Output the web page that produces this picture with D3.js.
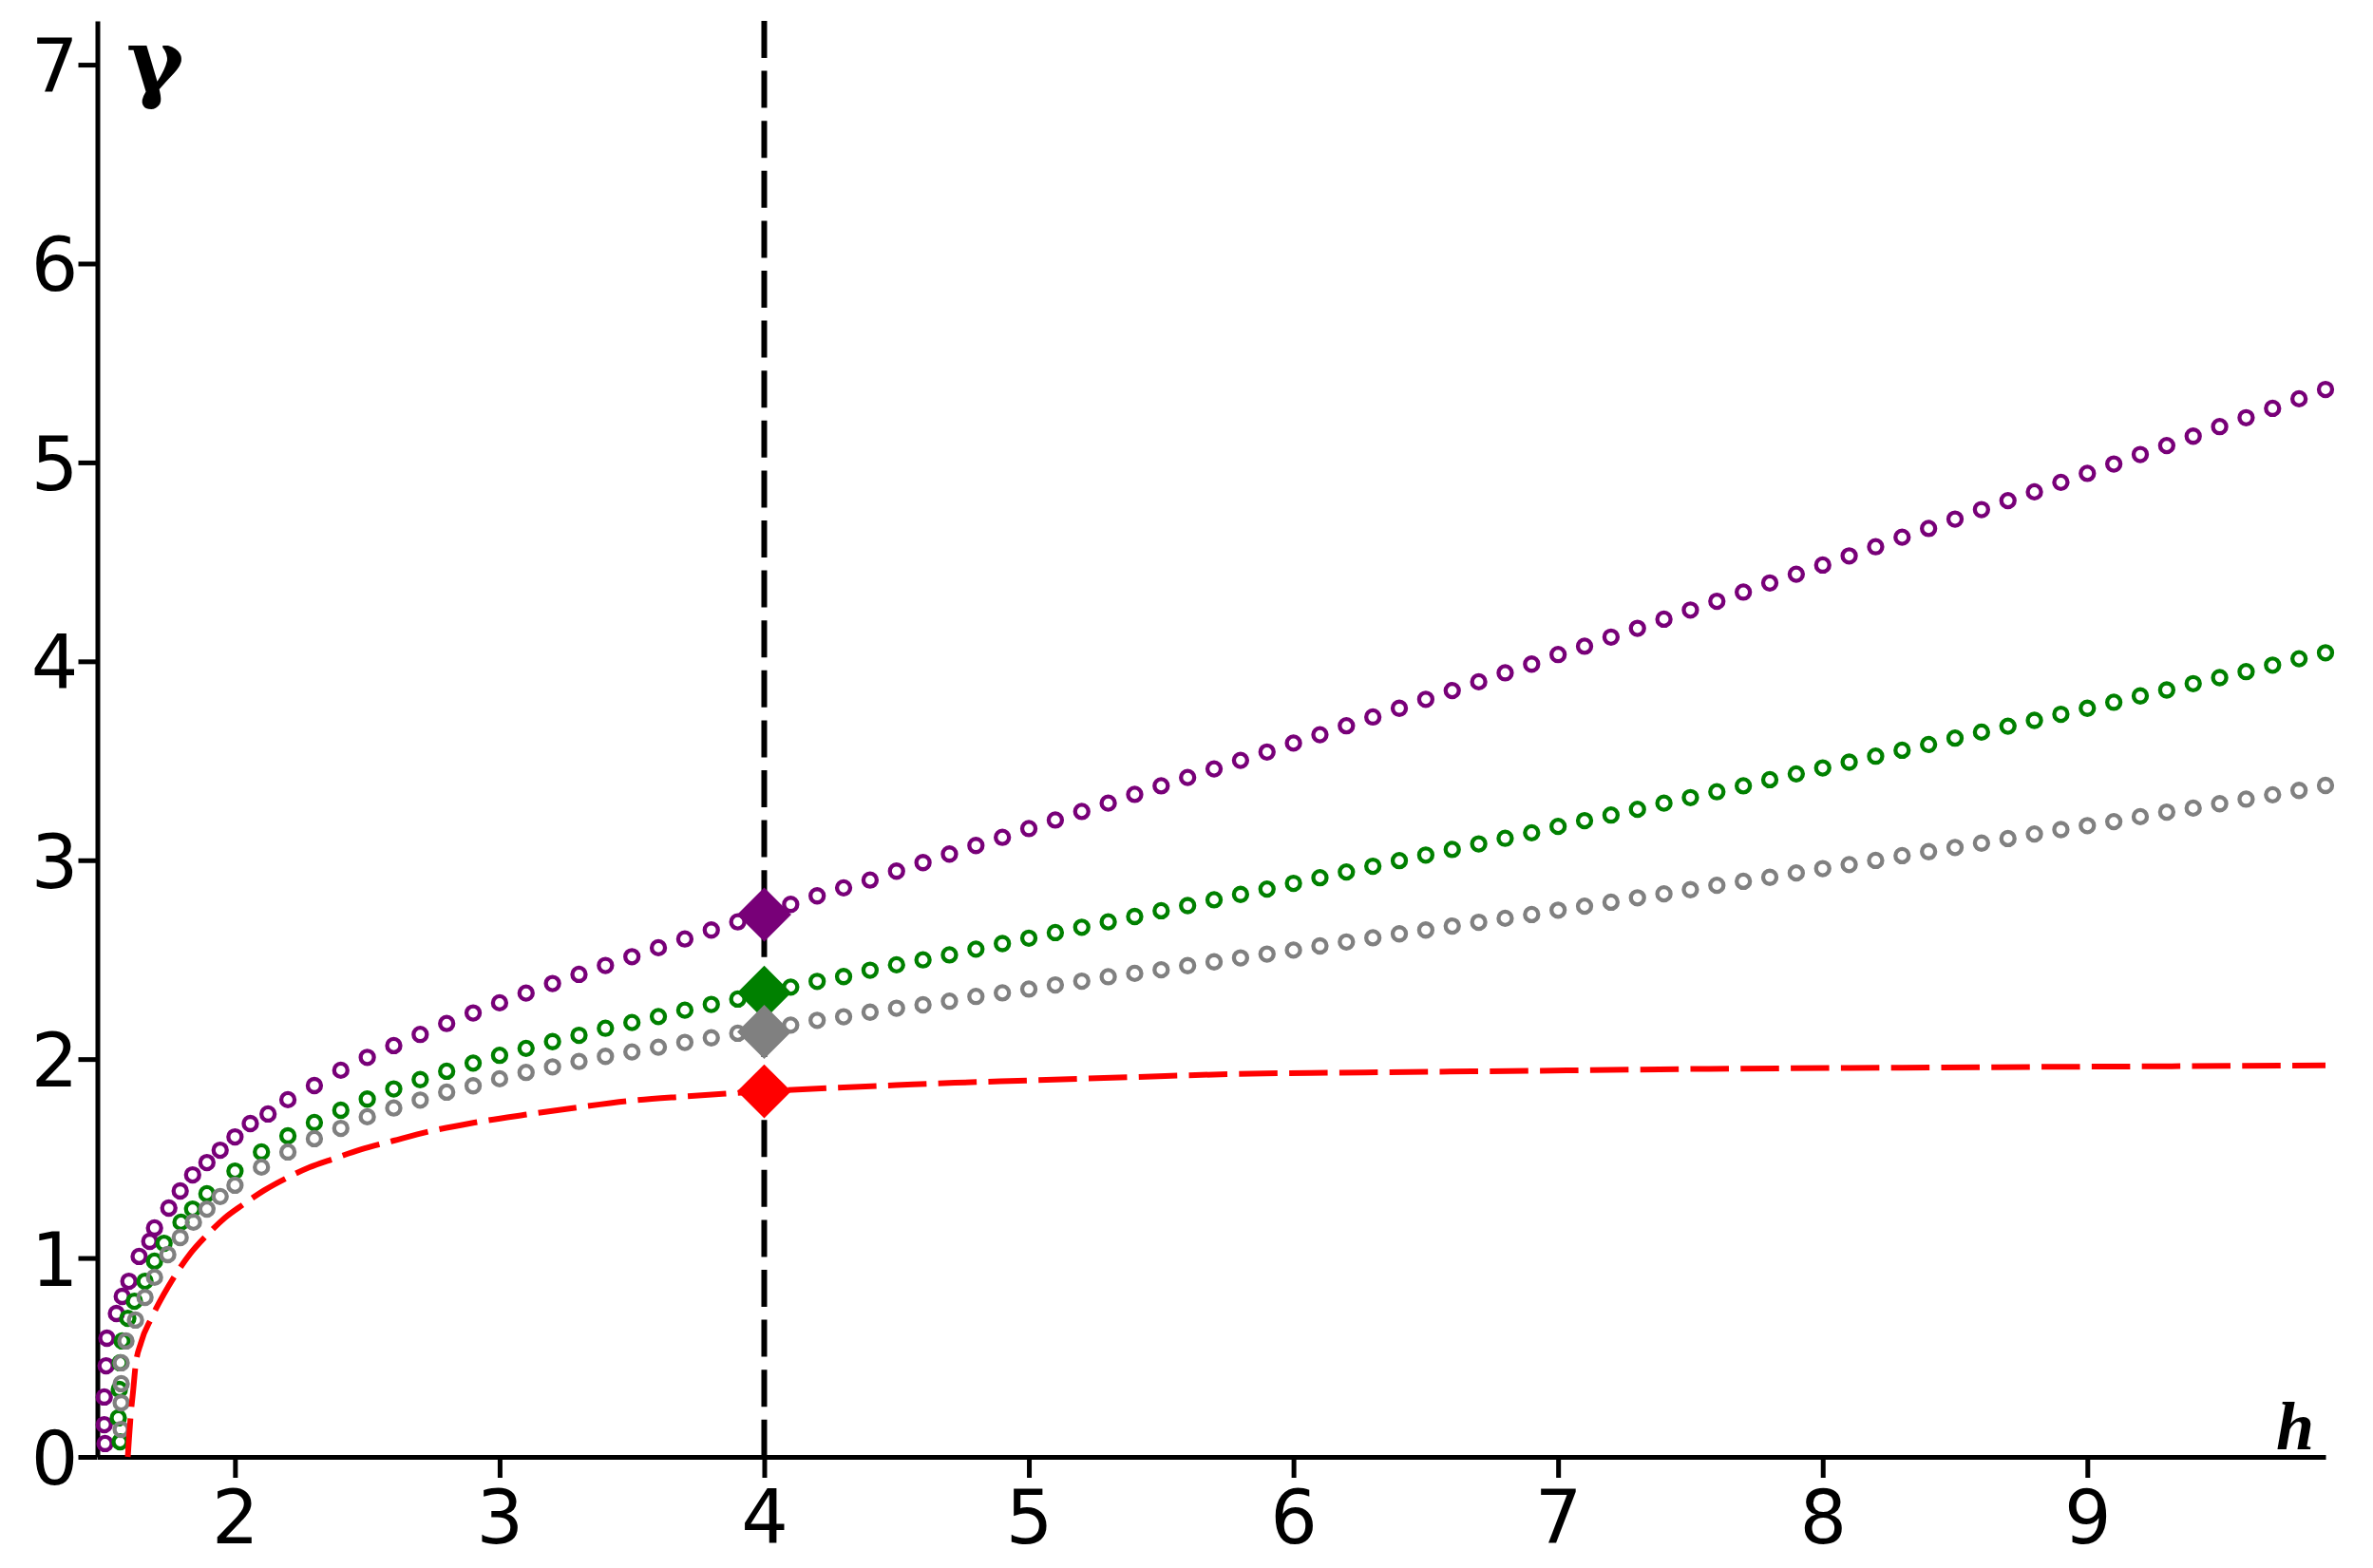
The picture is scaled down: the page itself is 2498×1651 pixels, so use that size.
<!DOCTYPE html>
<html lang="en">
	<head>
		<meta charset="utf-8">
		<title>gamma against h</title>
		<script src="https://d3js.org/d3.v7.min.js"></script>
		<style>
			body { margin: 0; background: #fff; }
			.tick text { font-family: "DejaVu Sans", sans-serif; font-size: 78px; fill: #000; }
		</style>
	</head>
	<body>
		<div id="chart"></div>

		<script type="text/javascript">

			// h values shared by the three dotted series (right part of the curves)
			var hGrid = [2.5, 2.6, 2.7, 2.8, 2.9, 3.0, 3.1, 3.2, 3.3, 3.4, 3.5, 3.6, 3.7, 3.8, 3.9,
				4.1, 4.2, 4.3, 4.4, 4.5, 4.6, 4.7, 4.8, 4.9, 5.0, 5.1, 5.2, 5.3, 5.4, 5.5, 5.6, 5.7, 5.8, 5.9,
				6.0, 6.1, 6.2, 6.3, 6.4, 6.5, 6.6, 6.7, 6.8, 6.9, 7.0, 7.1, 7.2, 7.3, 7.4, 7.5, 7.6, 7.7, 7.8, 7.9,
				8.0, 8.1, 8.2, 8.3, 8.4, 8.5, 8.6, 8.7, 8.8, 8.9, 9.0, 9.1, 9.2, 9.3, 9.4, 9.5, 9.6, 9.7, 9.8, 9.9];

			// purple series
			var purpleHeadH = [1.509, 1.506, 1.506, 1.513, 1.516, 1.552, 1.574, 1.599, 1.638, 1.678, 1.696, 1.750,
				1.793, 1.840, 1.894, 1.944, 2.0, 2.058, 2.125, 2.2, 2.3, 2.4];
			var purpleHeadG = [0.067, 0.162, 0.301, 0.458, 0.597, 0.721, 0.807, 0.883, 1.008, 1.084, 1.151, 1.251,
				1.337, 1.418, 1.480, 1.542, 1.609, 1.676, 1.724, 1.796, 1.867, 1.944];
			var purpleGamma = [2.009, 2.068, 2.124, 2.179, 2.232, 2.283, 2.332, 2.380, 2.426, 2.471, 2.515, 2.560, 2.604, 2.649, 2.690,
				2.778, 2.821, 2.861, 2.900, 2.945, 2.988, 3.031, 3.074, 3.115, 3.159, 3.202, 3.245, 3.287, 3.331, 3.374, 3.416, 3.459, 3.502, 3.544,
				3.589, 3.631, 3.676, 3.720, 3.764, 3.809, 3.853, 3.897, 3.942, 3.986, 4.034, 4.076, 4.122, 4.166, 4.212, 4.258, 4.302, 4.348, 4.394, 4.438,
				4.484, 4.530, 4.576, 4.624, 4.668, 4.715, 4.763, 4.808, 4.852, 4.900, 4.945, 4.992, 5.040, 5.085, 5.132, 5.180, 5.225, 5.272, 5.320, 5.367];

			// green series
			var greenHeadH = [1.566, 1.559, 1.563, 1.566, 1.574, 1.595, 1.620, 1.660, 1.696, 1.732, 1.796, 1.840,
				1.894, 2.0, 2.1, 2.2, 2.3, 2.4];
			var greenHeadG = [0.076, 0.196, 0.339, 0.473, 0.583, 0.697, 0.783, 0.883, 0.984, 1.074, 1.180, 1.246,
				1.323, 1.437, 1.533, 1.614, 1.681, 1.743];
			var greenGamma = [1.799, 1.850, 1.897, 1.939, 1.980, 2.019, 2.054, 2.088, 2.120, 2.155, 2.184, 2.214, 2.246, 2.275, 2.302,
				2.362, 2.391, 2.415, 2.447, 2.474, 2.499, 2.524, 2.553, 2.581, 2.608, 2.636, 2.663, 2.690, 2.717, 2.746, 2.772, 2.801, 2.828, 2.855,
				2.884, 2.912, 2.941, 2.970, 2.998, 3.026, 3.054, 3.082, 3.110, 3.138, 3.170, 3.199, 3.227, 3.256, 3.287, 3.315, 3.344, 3.374, 3.405, 3.434,
				3.464, 3.493, 3.523, 3.553, 3.582, 3.614, 3.644, 3.674, 3.703, 3.734, 3.764, 3.794, 3.826, 3.856, 3.888, 3.918, 3.948, 3.981, 4.013, 4.043];

			// gray series
			var grayHeadH = [1.570, 1.570, 1.570, 1.570, 1.588, 1.624, 1.660, 1.696, 1.746, 1.793, 1.843, 1.894,
				1.944, 2.0, 2.1, 2.2, 2.3, 2.4];
			var grayHeadG = [0.138, 0.272, 0.368, 0.473, 0.583, 0.688, 0.802, 0.903, 1.017, 1.103, 1.180, 1.246,
				1.309, 1.366, 1.457, 1.533, 1.600, 1.652];
			var grayGamma = [1.710, 1.754, 1.794, 1.834, 1.866, 1.901, 1.933, 1.961, 1.988, 2.014, 2.036, 2.060, 2.084, 2.107, 2.130,
				2.171, 2.195, 2.213, 2.236, 2.256, 2.273, 2.291, 2.315, 2.333, 2.352, 2.373, 2.392, 2.414, 2.431, 2.449, 2.470, 2.489, 2.509, 2.528,
				2.548, 2.569, 2.589, 2.610, 2.630, 2.649, 2.669, 2.688, 2.708, 2.727, 2.749, 2.769, 2.789, 2.811, 2.831, 2.852, 2.874, 2.894, 2.914, 2.936,
				2.958, 2.978, 2.999, 3.023, 3.043, 3.064, 3.086, 3.109, 3.132, 3.154, 3.174, 3.194, 3.219, 3.242, 3.262, 3.284, 3.307, 3.329, 3.351, 3.376];

			// red dashed curve
			var redH = [1.595, 1.600, 1.606, 1.615, 1.624, 1.645, 1.685, 1.730, 1.775, 1.830, 1.894, 1.960, 2.034, 2.110,
				2.195, 2.280, 2.375, 2.475, 2.600, 2.730, 2.900, 3.107, 3.300, 3.484, 3.700, 3.861, 4.000, 4.250, 4.500,
				4.720, 5.000, 5.400, 5.780, 6.270, 6.900, 7.570, 8.300, 9.000, 9.900];
			var redG = [0.000, 0.100, 0.210, 0.330, 0.455, 0.575, 0.700, 0.815, 0.915, 1.020, 1.115, 1.200, 1.272, 1.340,
				1.402, 1.455, 1.500, 1.545, 1.590, 1.635, 1.680, 1.722, 1.758, 1.789, 1.812, 1.827, 1.838, 1.855, 1.869,
				1.881, 1.893, 1.910, 1.925, 1.933, 1.941, 1.951, 1.957, 1.962, 1.968];

			// marked values at h = 4
			var markH = 4;
			var markNames = ['purple', 'green', 'gray', 'red'];
			var markGamma = [2.727, 2.334, 2.137, 1.838];

			// ticks
			var xMajor = [2, 3, 4, 5, 6, 7, 8, 9];
			var xMinor = [1.5, 2.5, 3.5, 4.5, 5.5, 6.5, 7.5, 8.5, 9.5];
			var yMajor = [0, 1, 2, 3, 4, 5, 6, 7];
			var yMinor = [0.5, 1.5, 2.5, 3.5, 4.5, 5.5, 6.5];

			var colors = { purple: '#780078', green: '#008000', gray: '#808080', red: '#ff0000' };

			var w = 2498;
			var h = 1651;

			var svg = d3.select('#chart')
				.append('svg')
				.attr('width', w)
				.attr('height', h);

			var x = d3.scaleLinear().domain([1.48, 9.9]).range([102.5, 2448]);
			var y = d3.scaleLinear().domain([0, 7.22]).range([1534, 22]);

			// axes
			var gx = svg.append('g').attr('transform', 'translate(0,' + y(0) + ')');
			gx.call(d3.axisBottom(x).tickValues(xMinor).tickSize(10).tickSizeOuter(0).tickFormat(''));
			gx.call(d3.axisBottom(x).tickValues(xMajor).tickSize(22).tickSizeOuter(0).tickPadding(14).tickFormat(d3.format('d')));

			var gy = svg.append('g').attr('transform', 'translate(' + x(1.48) + ',0)');
			gy.call(d3.axisLeft(y).tickValues(yMinor).tickSize(10).tickSizeOuter(0).tickFormat(''));
			gy.call(d3.axisLeft(y).tickValues(yMajor).tickSize(20).tickSizeOuter(0).tickPadding(0).tickFormat(d3.format('d')));
			gy.selectAll('.tick text').attr('dy', '0.365em');

			svg.selectAll('.domain').attr('stroke', '#000').attr('stroke-width', 5);
			svg.selectAll('.tick line').attr('stroke', '#000').attr('stroke-width', 5);

			// axis names
			svg.append('text')
				.attr('x', 133)
				.attr('y', 96)
				.style('font-family', '"DejaVu Serif", serif')
				.style('font-weight', 'bold')
				.style('font-size', '92px')
				.text('γ');
			svg.append('text')
				.attr('x', 2396)
				.attr('y', 1526)
				.style('font-family', '"Liberation Serif", serif')
				.style('font-weight', 'bold')
				.style('font-style', 'italic')
				.style('font-size', '72px')
				.text('h');

			// dotted series: adaptive points at the start, then the h grid
			function points(headH, headG, gamma) {
				var pts = headH.map(function (v, i) { return [v, headG[i]]; });
				return pts.concat(hGrid.map(function (v, i) { return [v, gamma[i]]; }));
			}
			var series = [
				{ name: 'purple', data: points(purpleHeadH, purpleHeadG, purpleGamma) },
				{ name: 'green', data: points(greenHeadH, greenHeadG, greenGamma) },
				{ name: 'gray', data: points(grayHeadH, grayHeadG, grayGamma) }
			];

			series.forEach(function (s) {
				svg.append('g')
					.selectAll('circle')
					.data(s.data)
					.enter()
					.append('circle')
					.attr('cx', function (d) { return x(d[0]); })
					.attr('cy', function (d) { return y(d[1]); })
					.attr('r', 7)
					.attr('fill', 'none')
					.attr('stroke', colors[s.name])
					.attr('stroke-width', 4.3);
			});

			// red dashed curve
			var line = d3.line()
				.x(function (d) { return x(d[0]); })
				.y(function (d) { return y(d[1]); })
				.curve(d3.curveMonotoneX);
			svg.append('path')
				.datum(redH.map(function (v, i) { return [v, redG[i]]; }))
				.attr('d', line)
				.attr('fill', 'none')
				.attr('stroke', colors.red)
				.attr('stroke-width', 6)
				.attr('stroke-dasharray', '40.5,12.3');

			// vertical dashed line at h = 4
			svg.append('line')
				.attr('x1', x(markH))
				.attr('x2', x(markH))
				.attr('y1', y(7.22))
				.attr('y2', y(0))
				.attr('stroke', '#000')
				.attr('stroke-width', 6)
				.attr('stroke-dasharray', '39,13.6');

			// diamonds
			var diamond = d3.symbol().type(d3.symbolSquare).size(1620);
			svg.append('g')
				.selectAll('path')
				.data(markGamma)
				.enter()
				.append('path')
				.attr('d', diamond)
				.attr('transform', function (d) { return 'translate(' + x(markH) + ',' + y(d) + ') rotate(45)'; })
				.attr('fill', function (d, i) { return colors[markNames[i]]; });

		</script>
	</body>
</html>
